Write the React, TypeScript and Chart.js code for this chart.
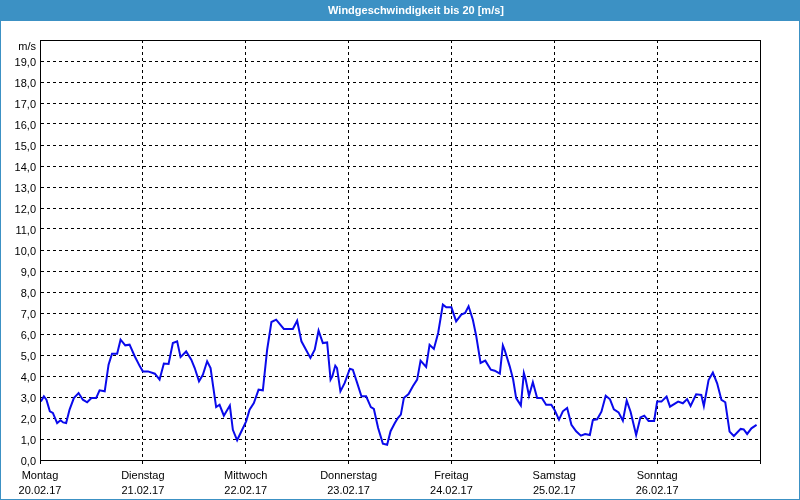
import React, { useEffect, useRef } from "react";
import { Chart, registerables } from "chart.js";

Chart.register(...registerables);

const TITLE = "Windgeschwindigkeit bis 20 [m/s]";
const UNIT = "m/s";
const DAY_NAMES = ["Montag", "Dienstag", "Mittwoch", "Donnerstag", "Freitag", "Samstag", "Sonntag"];
const DAY_DATES = ["20.02.17", "21.02.17", "22.02.17", "23.02.17", "24.02.17", "25.02.17", "26.02.17"];

// hours since Monday 00:00
const HOURS = [
  0.2, 0.9, 1.5, 2.3, 3.0, 4.0, 4.8, 5.4, 6.1, 6.9, 7.9, 9.0, 10.0, 11.0, 12.0, 13.1, 13.9, 15.1, 16.0, 16.8,
  18.0, 18.8, 19.9, 20.9, 22.1, 23.3, 24.0, 25.2, 26.8, 27.9, 28.9, 30.0, 31.0, 32.0, 32.8, 34.1, 35.3, 36.1,
  37.1, 38.0, 39.0, 39.8, 40.4, 41.1, 41.9, 42.9, 44.3, 45.0, 46.0, 47.0, 48.1, 48.9, 49.9, 51.0, 52.0, 53.0,
  54.0, 55.1, 56.9, 59.0, 60.0, 61.0, 63.1, 64.1, 65.0, 66.0, 67.0, 67.8, 68.2, 68.9, 69.3, 70.1, 71.1, 72.3,
  73.0, 74.0, 75.0, 76.1, 77.2, 77.9, 78.9, 80.0, 81.0, 81.8, 82.8, 83.5, 84.2, 84.9, 86.0, 87.0, 88.0, 88.8,
  90.1, 90.9, 91.9, 92.9, 94.0, 94.8, 96.0, 97.1, 98.3, 99.2, 100.0, 101.0, 101.8, 102.8, 103.9, 105.2, 106.1,
  107.3, 108.0, 108.4, 109.6, 110.4, 111.1, 112.2, 112.9, 113.3, 114.1, 115.0, 116.0, 117.1, 118.1, 119.3,
  120.1, 121.1, 122.0, 123.0, 124.0, 125.1, 126.2, 127.2, 128.3, 129.0, 130.0, 131.0, 132.0, 133.0, 133.9,
  135.0, 136.0, 136.9, 137.8, 139.1, 140.1, 141.0, 142.0, 143.3, 144.0, 145.0, 146.2, 147.0, 148.9, 150.0,
  151.0, 151.8, 153.1, 154.3, 154.9, 156.0, 157.0, 158.0, 159.0, 159.9, 160.9, 161.9, 163.5, 164.2, 165.0,
  166.0, 167.2,
];

// wind speed in m/s
const SPEED = [
  2.79, 3.03, 2.87, 2.32, 2.24, 1.76, 1.89, 1.79, 1.76, 2.4, 2.95, 3.19, 2.87, 2.75, 2.95, 2.95, 3.32, 3.27, 4.54, 5.06,
  5.06, 5.73, 5.46, 5.49, 4.94, 4.46, 4.22, 4.22, 4.11, 3.83, 4.59, 4.57, 5.57, 5.65, 4.9, 5.17, 4.78, 4.38,
  3.75, 4.06, 4.7, 4.38, 3.51, 2.52, 2.63, 2.11, 2.59, 1.44, 0.94, 1.37, 1.84, 2.4, 2.71, 3.35, 3.32, 5.25,
  6.57, 6.68, 6.24, 6.24, 6.63, 5.65, 4.86, 5.25, 6.16, 5.57, 5.6, 3.83, 3.98, 4.49, 4.38, 3.27, 3.67, 4.35,
  4.3, 3.67, 3.03, 3.03, 2.52, 2.43, 1.52, 0.78, 0.73, 1.37, 1.76, 2.0, 2.16, 2.95, 3.14, 3.51, 3.83, 4.73,
  4.43, 5.49, 5.29, 6.05, 7.4, 7.27, 7.27, 6.6, 6.92, 7.0, 7.32, 6.68, 5.89, 4.62, 4.73, 4.3, 4.25,
  4.11, 5.46, 5.25, 4.46, 3.83, 2.95, 2.6, 4.14, 3.86, 3.06, 3.7, 2.95, 2.95, 2.63, 2.63,
  2.37, 1.92, 2.32, 2.48, 1.68, 1.37, 1.16, 1.24, 1.19, 1.9, 1.94, 2.3, 3.06, 2.89, 2.41,
  2.27, 1.87, 2.83, 2.3, 1.19, 2.03, 2.11, 1.86, 1.86, 2.78, 2.78, 3.02, 2.54, 2.78, 2.7,
  2.9, 2.57, 3.13, 3.1, 2.57, 3.81, 4.16, 3.65, 2.86, 2.75, 1.35, 1.14, 1.48, 1.46, 1.24,
  1.51, 1.67,
];

const FRAME_BLUE = "#3c91c4";
const LINE_BLUE = "rgb(10,10,235)";
const FONT = "'Liberation Sans', Arial, sans-serif";

export default function App() {
  const ref = useRef<HTMLCanvasElement | null>(null);

  useEffect(() => {
    document.body.style.margin = "0";
    const canvas = ref.current;
    if (!canvas) return;

    const framePlugin = {
      id: "frame",
      beforeDraw(chart: any) {
        const { ctx, width, height } = chart;
        ctx.save();
        ctx.fillStyle = "#ffffff";
        ctx.fillRect(0, 0, width, height);
        ctx.fillStyle = FRAME_BLUE;
        ctx.fillRect(0, 0, width, 21);
        ctx.fillStyle = "#ffffff";
        ctx.font = `bold 11px ${FONT}`;
        ctx.textAlign = "center";
        ctx.textBaseline = "middle";
        ctx.fillText(TITLE, 416, 11);
        ctx.restore();
      },
      afterDraw(chart: any) {
        const { ctx, chartArea, width, height } = chart;
        ctx.save();
        ctx.strokeStyle = "#000000";
        ctx.lineWidth = 1;
        ctx.setLineDash([]);
        ctx.strokeRect(
          Math.round(chartArea.left) + 0.5,
          Math.round(chartArea.top) + 0.5,
          Math.round(chartArea.right - chartArea.left),
          Math.round(chartArea.bottom - chartArea.top)
        );
        ctx.fillStyle = "#000000";
        ctx.font = `11px ${FONT}`;
        ctx.textAlign = "right";
        ctx.textBaseline = "middle";
        ctx.fillText(UNIT, chartArea.left - 4, chartArea.top + 7);
        ctx.strokeStyle = FRAME_BLUE;
        ctx.strokeRect(0.5, 0.5, width - 1, height - 1);
        ctx.restore();
      },
    };

    const data = HOURS.map((h, i) => ({ x: h, y: SPEED[i] }));

    const chart = new Chart(canvas, {
      type: "line",
      data: {
        datasets: [
          {
            data,
            borderColor: LINE_BLUE,
            borderWidth: 2,
            pointRadius: 0,
            tension: 0,
            fill: false,
          },
        ],
      },
      options: {
        responsive: false,
        animation: false,
        layout: { padding: { top: 40, right: 40, left: 0, bottom: 0 } },
        plugins: { legend: { display: false }, tooltip: { enabled: false }, title: { display: false } },
        scales: {
          x: {
            type: "linear",
            min: 0,
            max: 168,
            afterFit(scale: any) {
              scale.height = 40;
            },
            ticks: {
              stepSize: 24,
              autoSkip: false,
              maxRotation: 0,
              color: "#000000",
              padding: 5,
              font: { family: FONT, size: 11, lineHeight: 1.35 },
              callback(v: any) {
                const i = Math.round(Number(v) / 24);
                if (i < DAY_NAMES.length) return [DAY_NAMES[i], DAY_DATES[i]];
                return "";
              },
            },
            grid: {
              color: "#000000",
              lineWidth: 1,
              drawTicks: true,
              tickLength: 4,
              tickColor: "#000000",
              tickBorderDash: [],
            },
            border: { display: true, color: "#000000", dash: [3, 3] },
          },
          y: {
            min: 0,
            max: 20,
            afterFit(scale: any) {
              scale.width = 40;
            },
            ticks: {
              stepSize: 1,
              color: "#000000",
              padding: 4,
              labelOffset: 1.5,
              font: { family: FONT, size: 11 },
              callback(v: any) {
                const n = Number(v);
                if (n >= 20) return "";
                return n.toFixed(1).replace(".", ",");
              },
            },
            grid: { color: "#000000", lineWidth: 1, drawTicks: false },
            border: { display: true, color: "#000000", dash: [3, 3] },
          },
        },
      },
      plugins: [framePlugin],
    });

    return () => chart.destroy();
  }, []);

  return <canvas ref={ref} width={800} height={500} style={{ display: "block" }} />;
}
